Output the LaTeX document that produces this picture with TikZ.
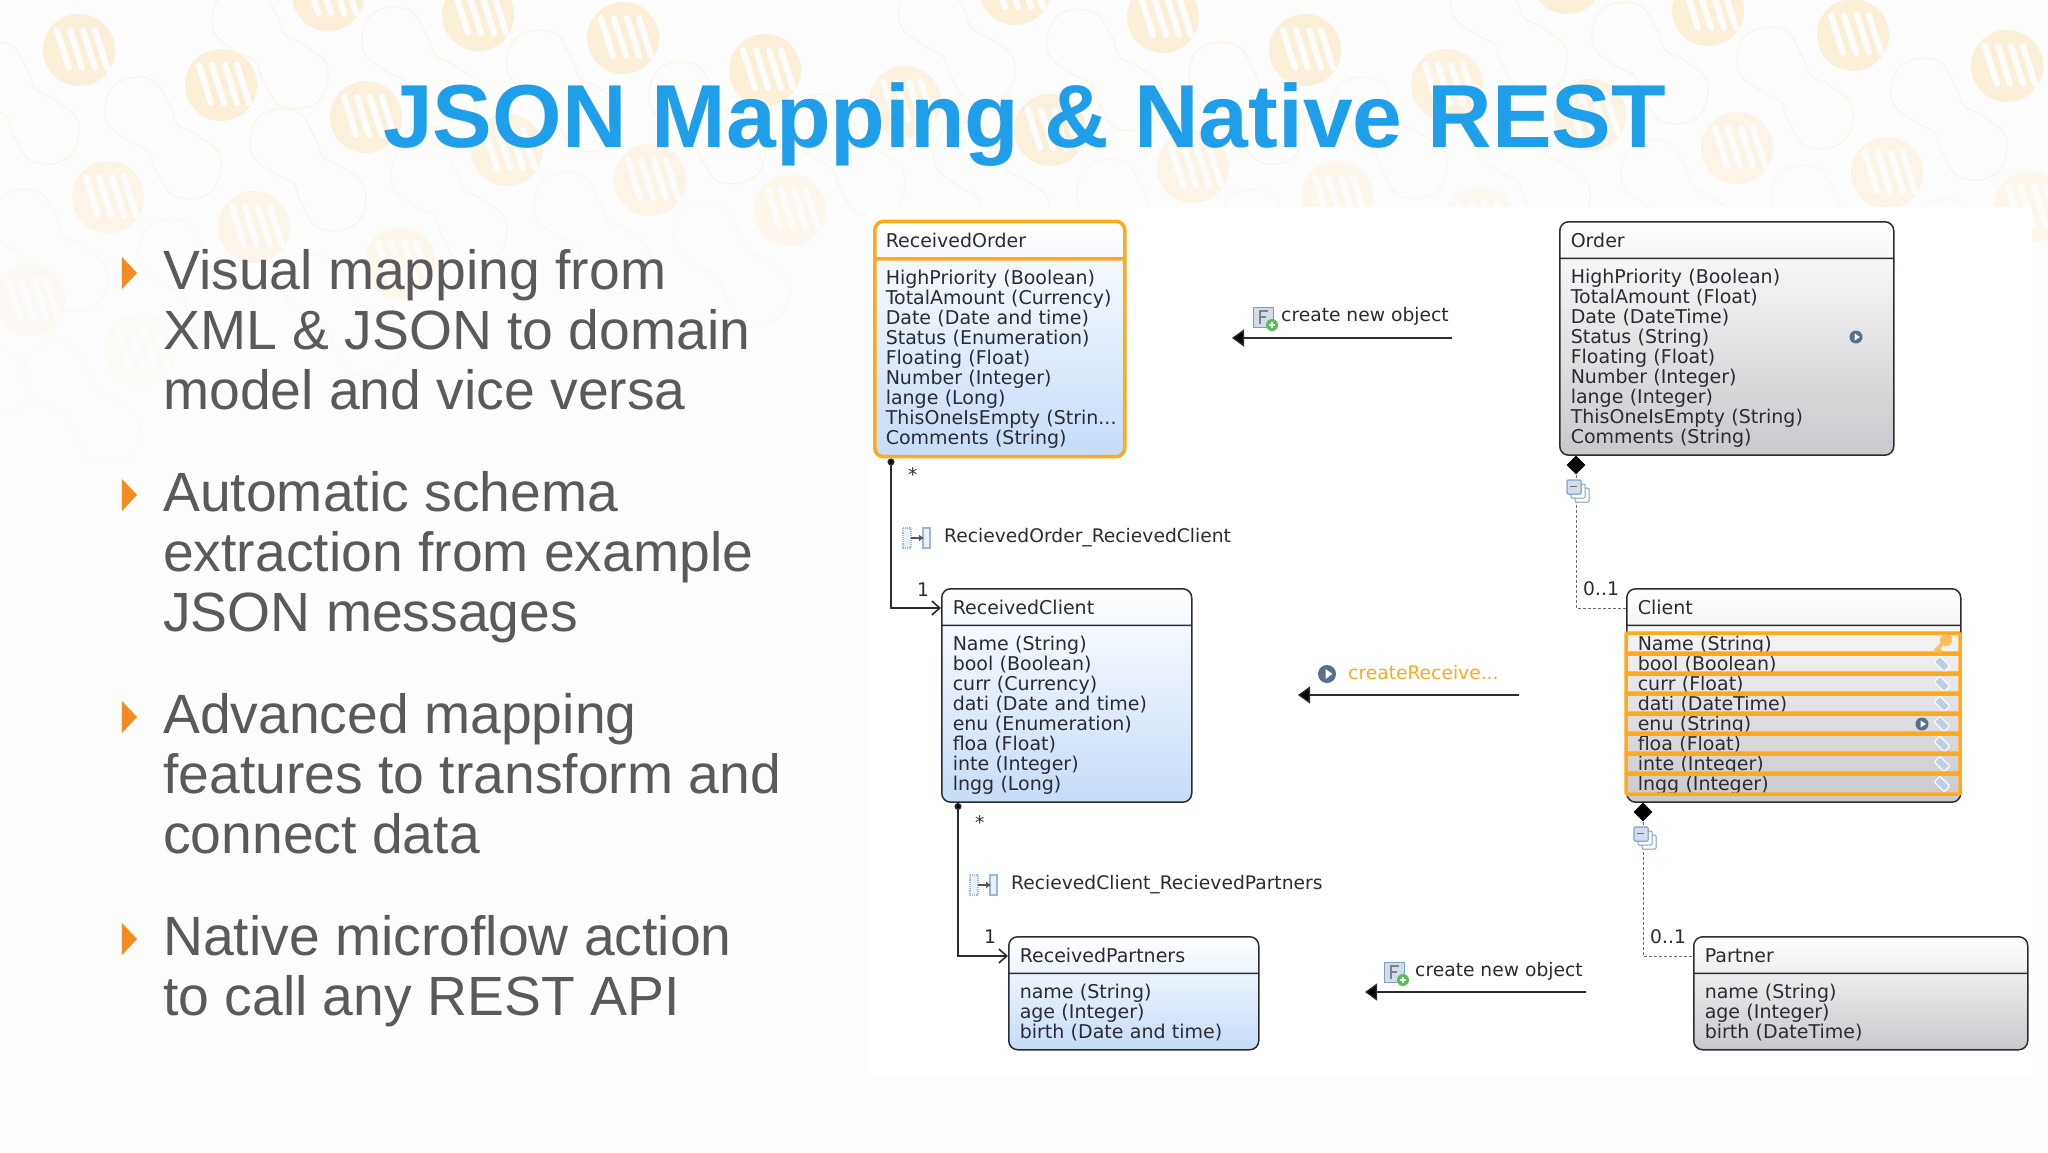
\documentclass[tikz,border=0pt]{standalone}
\usepackage{fontspec}
\setmainfont{Liberation Sans}
\newfontfamily\umlfont{DejaVu Sans}
\usetikzlibrary{shapes,shapes.geometric,shapes.multipart,calc,arrows.meta}
\definecolor{pagebg}{HTML}{FEFDFD}
\definecolor{logotint}{HTML}{FBEFD8}
\definecolor{titleblue}{HTML}{1F9FE9}
\definecolor{bodygrey}{HTML}{5A5A5C}
\definecolor{bulletorange}{HTML}{F58A1F}
\definecolor{selorange}{HTML}{FFA91F}
\definecolor{umlink}{HTML}{2B2B33}
\definecolor{bodyblue}{HTML}{C6DCF8}
\definecolor{bodygray}{HTML}{C9C9CD}
\definecolor{iconblue}{HTML}{7C9FC9}
\newcommand{\headrow}{\rule[-2.5pt]{0pt}{20pt}}
\newcommand{\rowtop}{\rule{0pt}{16.5pt}}
\newcommand{\rowend}{\rule[-3.5pt]{0pt}{3.5pt}}

\tikzset{
	logo/.pic={
		\fill[logotint!#1!pagebg] (0,0) circle (36);
		\foreach \sx in {-16,-3,10,22}{
			\draw[pagebg,line width=6pt,line cap=round] (\sx-6,-20) -- (\sx+6,18);
		}
	},
	blob/.pic={
		\draw[logotint!#1!pagebg,draw opacity=.55,line width=1.4pt,rotate=-48] plot[smooth cycle,tension=.7] coordinates
			{(-72,0) (-52,30) (-20,27) (0,20) (20,27) (52,30) (72,0) (52,-30) (20,-27) (0,-20) (-20,-27) (-52,-30)};
	},
	stackicon/.pic={
		\foreach \so in {8,4,0}{
			\draw[iconblue,fill=white,rounded corners=1pt,line width=1pt] (-9+\so,-12+\so) rectangle (5+\so,2+\so);
		}
		\fill[iconblue!35] (-9,-12) rectangle (5,2);
		\draw[iconblue,rounded corners=1pt,line width=1pt] (-9,-12) rectangle (5,2);
		\draw[umlink!70,line width=1pt] (-6,-6) -- (1,-6);
	},
	associcon/.pic={
		\draw[iconblue!75,fill=iconblue!15,line width=1.2pt,densely dotted] (-14,-10) rectangle (-6,10);
		\draw[iconblue!75,fill=iconblue!15,line width=1.2pt] (6,-10) rectangle (13,10);
		\draw[-{Latex[length=5pt,width=7pt]},umlink!80,line width=1.4pt] (-6,0) -- (7,0);
	},
	newicon/.pic={
		\draw[iconblue,fill=iconblue!35,line width=.8pt] (-10,-10) rectangle (10,10);
		\draw[umlink!60,line width=1.8pt] (-3,7) -- (-3,-6) -- (5,-6) (-3,0) -- (3,0);
		\fill[green!60!black!65] (9,8) circle (6);
		\draw[white,line width=1.3pt] (6,8) -- (12,8) (9,5) -- (9,11);
	},
	playicon/.pic={
		\fill[iconblue!70!black] (0,0) circle (#1);
		\fill[white] (-1.5,-.55*#1) -- (.6*#1,0) -- (-1.5,.55*#1) -- cycle;
	},
	tagicon/.pic={
		\draw[white,fill=iconblue!50,line width=1.2pt,rotate=-45,rounded corners=1pt] (-7,-4) rectangle (7,4);
	},
	keyicon/.pic={
		\draw[selorange!75!white,line width=3.5pt] (4,-4) -- (-7,7) (-4,4) -- (-1,8);
		\fill[selorange!75!white] (4,-4) circle (6);
	},
}

\begin{document}
\begin{tikzpicture}[x=1pt,y=-1pt]
	\tikzstyle{classnode}=[rectangle split, rectangle split parts=2, draw=umlink, line width=1.5pt, rounded corners=9pt, anchor=north west, inner xsep=11pt, inner ysep=7.5pt, align=left, text=umlink, font=\umlfont\fontsize{19}{20}\selectfont]
	\tikzstyle{bluenode}=[classnode, top color=white, bottom color=bodyblue, text width=228pt]
	\tikzstyle{greynode}=[classnode, top color=white, bottom color=bodygray, text width=312pt]
	\tikzstyle{bodytext}=[anchor=north west, inner sep=0pt, align=left, text=bodygrey, font=\fontsize{55.3}{60}\selectfont]
	\tikzstyle{bulletnode}=[isosceles triangle, isosceles triangle stretches, fill=bulletorange, minimum height=15pt, minimum width=32pt, inner sep=0pt, anchor=apex]
	\tikzstyle{umllabel}=[inner sep=0pt, anchor=west, text=umlink, font=\umlfont\fontsize{18.7}{20}\selectfont]
	\tikzstyle{assoc}=[draw=umlink, line width=1.6pt]
	\tikzstyle{compo}=[draw=umlink!70, line width=1pt, densely dashed]
	\tikzstyle{mapping}=[draw=umlink, line width=1.4pt, -{Triangle[length=12pt,width=17pt]}]
	\tikzstyle{selrow}=[draw=selorange, line width=3.5pt, rounded corners=1pt]

	\path[use as bounding box, clip] (0,0) rectangle (2048,1152);
	% background
	\fill[pagebg] (0,0) rectangle (2048,1152);
	\foreach \lx/\ly/\lt in {79/50/100,221/85/100,366/117/90,478/15/100,623/38/100,328/-5/100,108/197/60,254/227/55,400/263/45,507/150/70,650/180/60,765/70/100,905/102/80,1015/-11/100,1163/17/100,1050/130/90,790/210/45,1193/167/60,1305/50/100,1447/85/80,1567/-22/100,1708/10/100,1590/115/70,1737/148/60,1337/197/45,1480/223/35,1853/35/100,2007/66/100,1887/173/60,2030/207/45,30/300/20,140/350/15}{
		\pic at (\lx-58,\ly+53) {blob=\lt};
		\pic at (\lx,\ly) {logo=\lt};
	}
	\fill[white] (867,207) rectangle (2032,1078);

	% title and list
	\node[anchor=base west, inner sep=0pt, text=titleblue, font=\bfseries\fontsize{89.5}{96}\selectfont] (title) at (383,147) {JSON Mapping \& Native REST};
	\node[bodytext] (item1) at (163,249) {Visual mapping from\\XML \& JSON to domain\\model and vice versa};
	\node[bodytext] (item2) at (163,471) {Automatic schema\\extraction from example\\JSON messages};
	\node[bodytext] (item3) at (163,693) {Advanced mapping\\features to transform and\\connect data};
	\node[bodytext] (item4) at (163,915) {Native microflow action\\to call any REST API};
	\foreach \bi/\by in {1/273,2/495,3/717,4/939}{
		\node[bulletnode] (bullet\bi) at (137.5,\by) {};
	}

	% classes
	\node[bluenode, draw=selorange, line width=3.5pt, inner ysep=7pt] (rorder) at (873,219.5) {\headrow ReceivedOrder
		\nodepart{two} \rowtop HighPriority (Boolean)\\TotalAmount (Currency)\\Date (Date and time)\\Status (Enumeration)\\Floating (Float)\\Number (Integer)\\lange (Long)\\\mbox{ThisOneIsEmpty (Strin...}\\Comments (String)\rowend};
	\node[greynode] (order) at (1559,221) {\headrow Order
		\nodepart{two} \rowtop HighPriority (Boolean)\\TotalAmount (Float)\\Date (DateTime)\\Status (String)\\Floating (Float)\\Number (Integer)\\lange (Integer)\\ThisOneIsEmpty (String)\\Comments (String)\rowend};
	\node[bluenode] (rclient) at (941,588) {\headrow ReceivedClient
		\nodepart{two} \rowtop Name (String)\\bool (Boolean)\\curr (Currency)\\dati (Date and time)\\enu (Enumeration)\\floa (Float)\\inte (Integer)\\lngg (Long)\rowend};
	\node[greynode] (client) at (1626,588) {\headrow Client
		\nodepart{two} \rowtop Name (String)\\bool (Boolean)\\curr (Float)\\dati (DateTime)\\enu (String)\\floa (Float)\\inte (Integer)\\lngg (Integer)\rowend};
	\node[bluenode] (rpartners) at (1008,936) {\headrow ReceivedPartners
		\nodepart{two} \rowtop name (String)\\age (Integer)\\birth (Date and time)\rowend};
	\node[greynode] (partner) at (1693,936) {\headrow Partner
		\nodepart{two} \rowtop name (String)\\age (Integer)\\birth (DateTime)\rowend};

	% selected attributes of Client
	\foreach \ri in {0,...,7}{
		\draw[selrow] (1626,633+20*\ri) rectangle (1960,654+20*\ri);
		\ifnum\ri>0 \pic at (1942,644+20*\ri) {tagicon};\fi
	}
	\pic at (1942,644) {keyicon};
	\pic at (1922,724) {playicon=6.5};
	\pic at (1856,337) {playicon=6.5};

	% associations
	\draw[assoc, {Circle[length=7pt]}-{Straight Barb[length=8pt,width=14pt]}] ([xshift=18pt]rorder.south west) |- ([yshift=-20pt]rclient.north west);
	\node[umllabel] (star1) at (908,475) {*};
	\node[umllabel] (one1) at (917,590) {1};
	\pic at (917,538) {associcon};
	\node[umllabel] (assoc1) at (944,538) {RecievedOrder\_RecievedClient};

	\draw[assoc, {Circle[length=7pt]}-{Straight Barb[length=8pt,width=14pt]}] ([xshift=17pt]rclient.south west) |- ([yshift=-20pt]rpartners.north west);
	\node[umllabel] (star2) at (975,823) {*};
	\node[umllabel] (one2) at (984,937) {1};
	\pic at (984,885) {associcon};
	\node[umllabel] (assoc2) at (1011,885) {RecievedClient\_RecievedPartners};

	% compositions
	\node[diamond, fill=black, minimum width=19pt, minimum height=19pt, inner sep=0pt] (dorder) at (1576,465) {};
	\node[diamond, fill=black, minimum width=19pt, minimum height=19pt, inner sep=0pt] (dclient) at (1643,812) {};
	\draw[compo] (dorder.south) |- ([yshift=-20pt]client.north west);
	\draw[compo] (dclient.south) |- ([yshift=-20pt]partner.north west);
	\pic at (1576,492) {stackicon};
	\pic at (1643,839) {stackicon};
	\node[umllabel] (card1) at (1583,589) {0..1};
	\node[umllabel] (card2) at (1650,937) {0..1};

	% mappings
	\coordinate (mapa) at (1452,338);
	\coordinate (mapb) at (1519,695);
	\coordinate (mapc) at (1586,992);
	\draw[mapping] (mapa) -- ++(-220,0) coordinate (mapaend);
	\draw[mapping] (mapb) -- ++(-221,0) coordinate (mapbend);
	\draw[mapping] (mapc) -- ++(-221,0) coordinate (mapcend);
	\pic at (1263,317) {newicon};
	\node[umllabel] (mapatext) at (1281,316) {create new object};
	\pic at (1327,674) {playicon=9};
	\node[umllabel, text=selorange] (mapbtext) at (1348,673) {createReceive...};
	\pic at (1394,972) {newicon};
	\node[umllabel] (mapctext) at (1415,971) {create new object};
\end{tikzpicture}
\end{document}
